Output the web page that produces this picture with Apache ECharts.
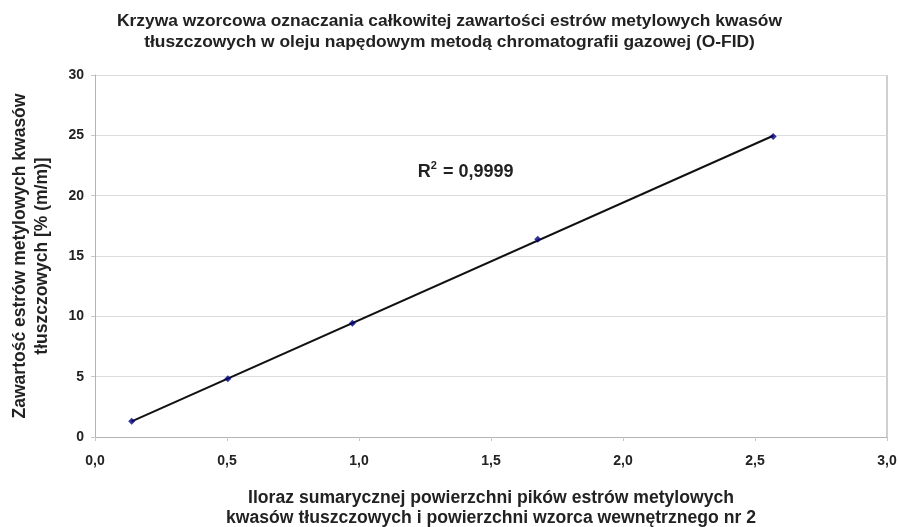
<!DOCTYPE html>
<html>
<head>
<meta charset="utf-8">
<script src="https://cdn.jsdelivr.net/npm/echarts@6/dist/echarts.min.js"></script>
<style>
  html, body { margin: 0; padding: 0; background: #fff; }
  #chart { width: 899px; height: 527px; }
</style>
</head>
<body>
<div id="chart"></div>
<script>
document.addEventListener('DOMContentLoaded', function() {

    const ratio = [0.139, 0.503, 0.975, 1.677, 2.569];
    const content = [1.30, 4.82, 9.42, 16.38, 24.91];
    const xTicks = [0, 0.5, 1, 1.5, 2, 2.5, 3];
    const yTicks = [0, 5, 10, 15, 20, 25, 30];
    const r2Label = '0,9999';

    const font = '"Liberation Sans", Arial, sans-serif';
    const textColor = '#222';

    // linear trendline over the data points
    const n = ratio.length;
    const mx = ratio.reduce((a, b) => a + b, 0) / n;
    const my = content.reduce((a, b) => a + b, 0) / n;
    let sxy = 0, sxx = 0;
    for (let i = 0; i < n; i++) {
        sxy += (ratio[i] - mx) * (content[i] - my);
        sxx += (ratio[i] - mx) * (ratio[i] - mx);
    }
    const slope = sxy / sxx;
    const icpt = my - slope * mx;
    const xMin = Math.min(...ratio), xMax = Math.max(...ratio);
    const trend = [[xMin, icpt + slope * xMin], [xMax, icpt + slope * xMax]];

    const chart = echarts.init(document.getElementById('chart'));

    chart.setOption({
        backgroundColor: '#fff',
        textStyle: {fontFamily: font},
        title: {
            text: 'Krzywa wzorcowa oznaczania całkowitej zawartości estrów metylowych kwasów\ntłuszczowych w oleju napędowym metodą chromatografii gazowej (O-FID)',
            left: 'center',
            top: 6,
            textStyle: {
                fontFamily: font,
                fontSize: 17.4,
                fontWeight: 'bold',
                color: textColor,
                lineHeight: 21,
                align: 'center'
            }
        },
        grid: {
            left: 95,
            right: 12,
            top: 75,
            bottom: 90,
            outerBoundsMode: 'none'
        },
        xAxis: {
            type: 'value',
            min: xTicks[0],
            max: xTicks[xTicks.length - 1],
            interval: 0.5,
            name: 'Iloraz sumarycznej powierzchni pików estrów metylowych\nkwasów tłuszczowych i powierzchni wzorca wewnętrznego nr 2',
            nameLocation: 'middle',
            nameGap: 51,
            nameTextStyle: {
                fontFamily: font,
                fontSize: 17.6,
                fontWeight: 'bold',
                color: textColor,
                lineHeight: 20,
                align: 'center'
            },
            axisLine: {show: true, lineStyle: {color: '#b4b4b4', width: 1}},
            axisTick: {show: true, length: 4, lineStyle: {color: '#c8c8c8'}},
            splitLine: {show: false},
            axisLabel: {
                fontFamily: font,
                fontSize: 14,
                fontWeight: 'bold',
                color: textColor,
                margin: 17,
                formatter: v => v.toFixed(1).replace('.', ',')
            }
        },
        yAxis: {
            type: 'value',
            min: yTicks[0],
            max: yTicks[yTicks.length - 1],
            interval: 5,
            name: 'Zawartość estrów metylowych kwasów\ntłuszczowych [% (m/m)]',
            nameLocation: 'middle',
            nameGap: 42,
            nameRotate: 90,
            nameTextStyle: {
                fontFamily: font,
                fontSize: 17.5,
                fontWeight: 'bold',
                color: textColor,
                lineHeight: 22,
                align: 'center'
            },
            axisLine: {show: true, lineStyle: {color: '#b4b4b4', width: 1}},
            axisTick: {show: true, length: 4, lineStyle: {color: '#c8c8c8'}},
            splitLine: {show: true, lineStyle: {color: '#dcdcdc', width: 1}},
            axisLabel: {
                fontFamily: font,
                fontSize: 14,
                fontWeight: 'bold',
                color: textColor,
                margin: 11
            }
        },
        graphic: [{
            type: 'rect',
            shape: {x: 887, y: 75, width: 0, height: 362},
            style: {stroke: '#c0c0c0', lineWidth: 1, fill: 'none'},
            silent: true
        }],
        series: [
            {
                name: 'trend',
                type: 'line',
                data: trend,
                symbol: 'none',
                lineStyle: {color: '#111', width: 2},
                silent: true,
                z: 2,
                markPoint: {
                    symbol: 'rect',
                    symbolSize: 0,
                    data: [{
                        coord: [1.223, 22.0],
                        label: {
                            show: true,
                            position: 'right',
                            distance: 0,
                            formatter: '{r|R}{s|2}{r| = ' + r2Label + '}',
                            rich: {
                                r: {fontFamily: font, fontSize: 18, fontWeight: 'bold', color: textColor},
                                s: {fontFamily: font, fontSize: 11, fontWeight: 'bold', color: textColor, verticalAlign: 'top', padding: [0, 1, 12, 0]}
                            }
                        }
                    }]
                }
            },
            {
                name: 'punkty',
                type: 'scatter',
                data: ratio.map((x, i) => [x, content[i]]),
                symbol: 'diamond',
                symbolSize: 7,
                itemStyle: {color: '#000080'},
                z: 3
            }
        ]
    });
});
</script>
</body>
</html>
